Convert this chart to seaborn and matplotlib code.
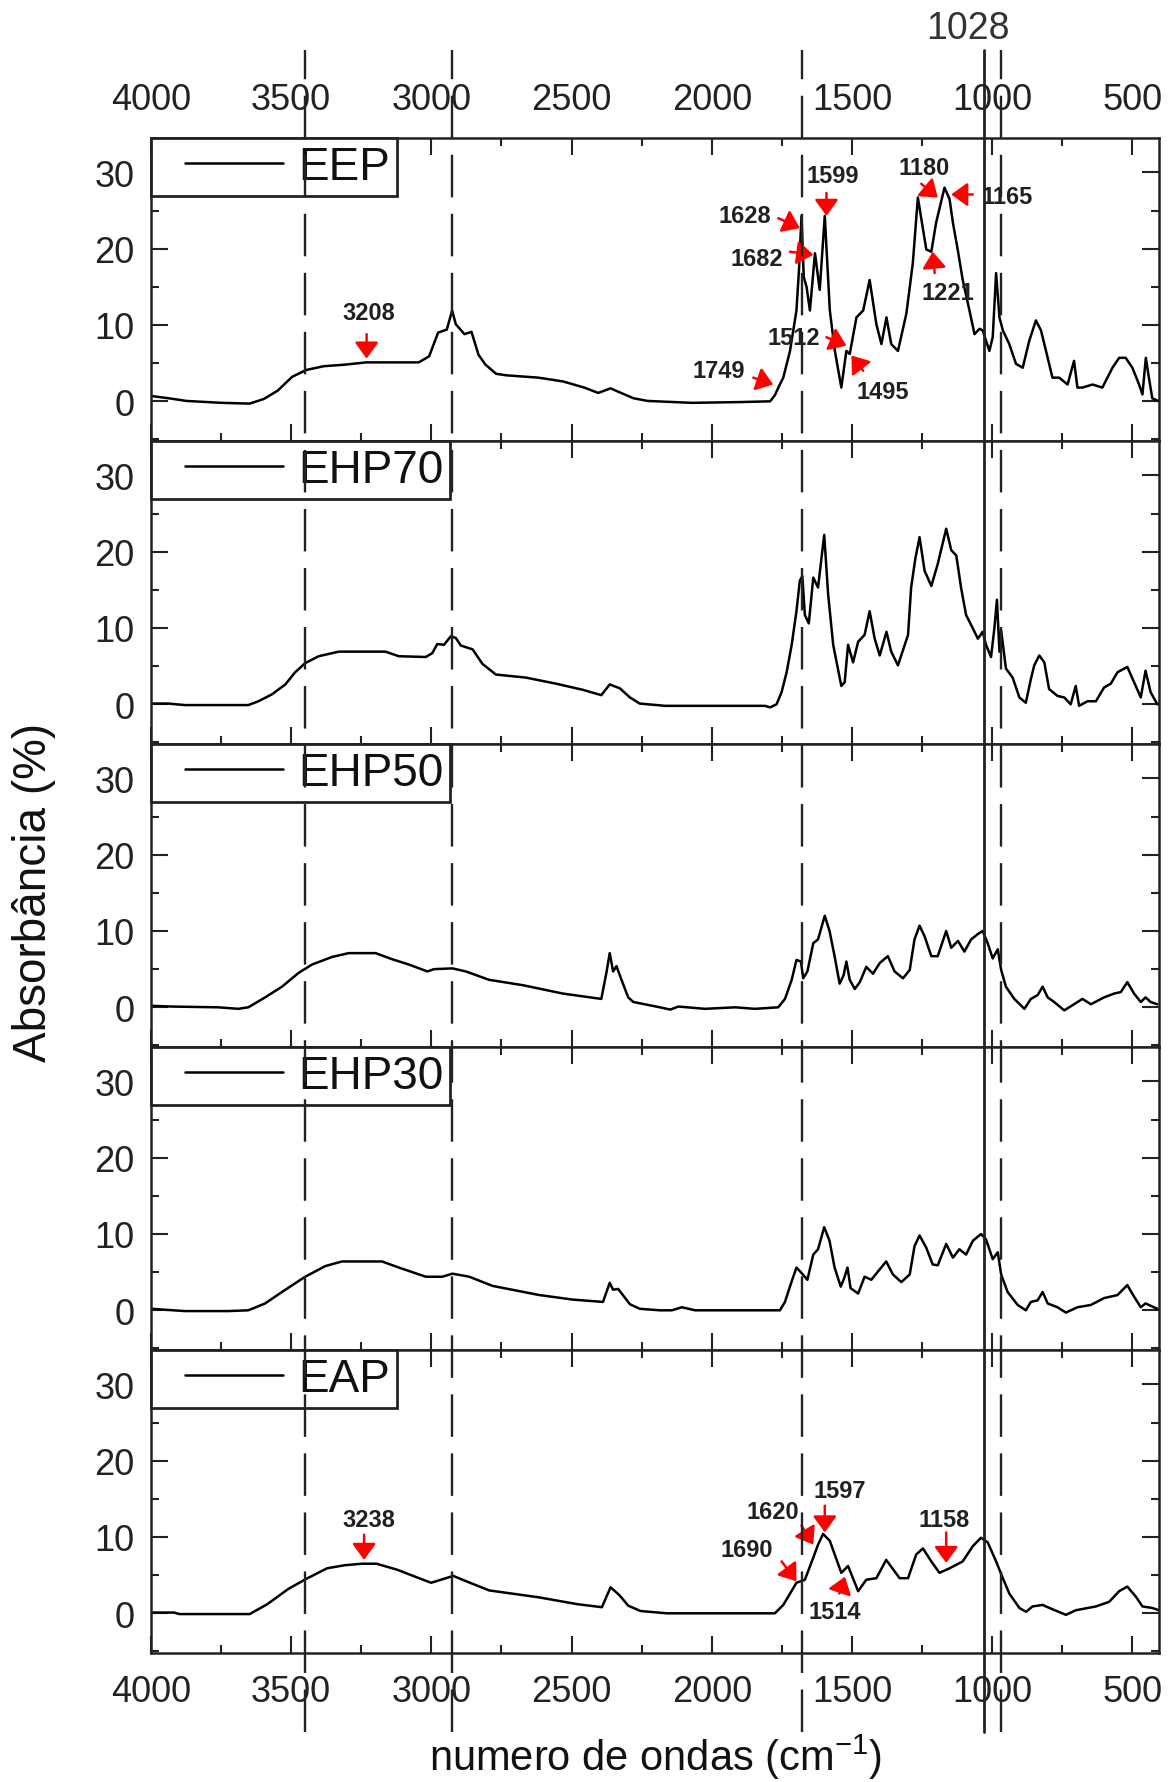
import numpy as np
import pandas as pd
import matplotlib
matplotlib.use("Agg")
import matplotlib.pyplot as plt
import matplotlib.transforms as mtransforms
from matplotlib.lines import Line2D
from matplotlib.legend_handler import HandlerLine2D
from matplotlib.ticker import MultipleLocator
import seaborn as sns

# ---------------- data ----------------
labels = ["EEP", "EHP70", "EHP50", "EHP30", "EAP"]

eep_x = [4000, 3937, 3874, 3749, 3648, 3598, 3548, 3497, 3447, 3384, 3309, 3234, 3121, 3045, 3008, 2976,
         2945, 2926, 2913, 2882, 2857, 2832, 2807, 2769, 2731, 2618, 2530, 2455, 2405, 2361, 2330, 2279,
         2229, 2071, 1900, 1792, 1775, 1760, 1745, 1721, 1698, 1689, 1680, 1672, 1662, 1650, 1632, 1615,
         1597, 1579, 1561, 1538, 1520, 1508, 1484, 1460, 1437, 1413, 1395, 1377, 1360, 1336, 1306, 1283,
         1265, 1235, 1217, 1200, 1170, 1152, 1140, 1123, 1105, 1081, 1063, 1045, 1034, 1010, 998, 986,
         974, 962, 939, 915, 891, 868, 844, 826, 808, 785, 761, 731, 708, 696, 678, 642, 607, 571, 547,
         524, 500, 476, 464, 452, 441, 429, 405]
eep_y = [0.7, 0.4, 0.05, -0.2, -0.3, 0.3, 1.4, 3.2, 4.1, 4.6, 4.8, 5.1, 5.1, 5.1, 5.9, 9.0,
         9.4, 11.9, 10.1, 8.8, 9.1, 6.1, 4.8, 3.6, 3.4, 3.1, 2.6, 1.8, 1.1, 1.7, 1.2, 0.4,
         0.05, -0.2, -0.1, 0.0, 0.8, 2.0, 3.1, 6.6, 11.9, 17.2, 24.3, 16.3, 15.0, 11.9, 19.4, 14.6,
         24.3, 11.9, 6.6, 1.8, 6.6, 6.2, 11.0, 11.9, 15.9, 10.1, 7.5, 11.0, 7.5, 6.6, 11.5, 18.1,
         26.7, 19.9, 19.6, 23.4, 28.0, 26.5, 23.4, 19.9, 15.9, 11.9, 8.8, 9.5, 9.3, 6.6, 8.4, 16.8,
         11.0, 9.3, 7.5, 4.9, 4.4, 7.9, 10.6, 9.3, 6.6, 3.1, 3.1, 2.2, 5.3, 1.8, 1.8, 2.2, 1.8, 4.4, 5.7,
         5.7, 4.4, 2.2, 0.9, 5.7, 3.1, 0.4, 0.0]

ehp70_x = [4000, 3939, 3879, 3653, 3617, 3569, 3521, 3486, 3450, 3402, 3331, 3164, 3116, 3020, 2997, 2979,
           2955, 2931, 2913, 2895, 2853, 2818, 2770, 2663, 2555, 2460, 2394, 2364, 2328, 2292, 2257,
           2166, 1810, 1792, 1769, 1751, 1733, 1715, 1698, 1686, 1677, 1668, 1654, 1638, 1621, 1599,
           1585, 1567, 1538, 1526, 1514, 1496, 1478, 1455, 1437, 1419, 1401, 1377, 1360, 1336, 1300,
           1289, 1274, 1259, 1241, 1217, 1194, 1164, 1146, 1128, 1111, 1093, 1075, 1051, 1034, 1022,
           1004, 992, 983, 974, 968, 951, 927, 903, 880, 862, 850, 832, 814, 797, 767, 743, 720, 702,
           690, 660, 630, 601, 577, 553, 518, 494, 470, 453, 435, 411]
ehp70_y = [0.1, 0.1, -0.1, -0.1, 0.4, 1.3, 2.6, 4.2, 5.4, 6.3, 6.9, 6.9, 6.3, 6.2, 6.7, 7.9,
           7.8, 8.9, 8.7, 7.7, 7.2, 5.3, 3.9, 3.5, 2.7, 1.9, 1.2, 2.6, 2.1, 0.9, 0.1,
           -0.2, -0.2, -0.4, 0.0, 1.6, 4.2, 7.8, 12.2, 16.2, 16.8, 11.7, 10.6, 16.6, 15.3, 22.2,
           14.4, 7.8, 2.4, 2.9, 7.8, 5.5, 8.2, 9.1, 12.2, 8.6, 6.4, 9.5, 6.9, 5.1, 9.1,
           15.3, 19.1, 21.9, 17.5, 15.5, 18.4, 23.0, 20.2, 19.5, 15.3, 11.7, 10.4, 8.6, 9.5, 7.8,
           6.2, 10.0, 13.7, 6.9, 9.7, 4.7, 3.5, 0.9, 0.2, 3.3, 5.1, 6.4, 5.5, 2.0, 1.1, 0.9, 0.0, 2.4,
           -0.2, 0.4, 0.4, 2.2, 2.7, 4.2, 4.9, 2.9, 0.9, 4.4, 1.6, 0.0]

ehp50_x = [4000, 3927, 3760, 3689, 3653, 3593, 3533, 3474, 3426, 3354, 3295, 3199, 3140, 3080, 3014, 2991,
           2925, 2877, 2794, 2674, 2531, 2394, 2376, 2364, 2352, 2340, 2322, 2298, 2280, 2185,
           2148, 2119, 2024, 1917, 1846, 1763, 1739, 1715, 1698, 1682, 1674, 1659, 1638, 1621, 1597,
           1580, 1562, 1544, 1530, 1520, 1508, 1490, 1472, 1449, 1425, 1401, 1372, 1348, 1318, 1294,
           1277, 1259, 1241, 1217, 1194, 1164, 1146, 1122, 1099, 1075, 1051, 1034, 1016, 998, 980,
           968, 951, 921, 885, 862, 838, 820, 802, 779, 743, 708, 678, 648, 601, 565, 541, 518, 494,
           470, 453, 435, 411]
ehp50_y = [0.2, 0.1, 0.0, -0.2, 0.0, 1.3, 2.7, 4.5, 5.6, 6.6, 7.1, 7.1, 6.3, 5.6, 4.7, 5.0,
           5.1, 4.7, 3.6, 2.9, 1.8, 1.1, 4.5, 7.1, 4.7, 5.4, 3.6, 1.3, 0.7, 0.0,
           -0.3, 0.1, -0.2, 0.0, -0.2, 0.0, 1.1, 3.6, 6.2, 6.0, 3.8, 4.7, 8.4, 8.9, 12.0,
           10.0, 6.7, 3.1, 4.2, 6.0, 3.6, 2.4, 3.3, 5.3, 4.4, 5.8, 6.7, 4.7, 3.8, 4.9,
           8.9, 10.7, 9.3, 6.7, 6.7, 10.0, 7.8, 8.7, 7.3, 8.9, 9.6, 10.0, 8.4, 6.4, 7.6,
           4.9, 2.7, 1.1, -0.2, 1.1, 1.6, 2.7, 1.3, 0.7, -0.4, 0.4, 1.1, 0.4, 1.3, 1.8, 2.0, 3.3, 1.8,
           0.7, 1.3, 0.7, 0.4]

ehp30_x = [4000, 3879, 3724, 3653, 3593, 3533, 3450, 3378, 3319, 3176, 3116, 3020, 2961, 2925, 2865, 2782,
           2615, 2495, 2388, 2364, 2352, 2334, 2292, 2257, 2185,
           2142, 2107, 2059, 1881, 1757, 1739, 1715, 1698, 1680, 1659, 1638, 1621, 1599, 1580, 1562,
           1540, 1528, 1516, 1505, 1478, 1455, 1431, 1407, 1378, 1354, 1324, 1294, 1277, 1259, 1235,
           1212, 1194, 1164, 1140, 1117, 1093, 1069, 1040, 1022, 998, 980, 968, 945, 909, 880, 862,
           838, 820, 802, 767, 737, 696, 648, 601, 553, 518, 494, 470, 453, 411]
ehp30_y = [0.2, -0.1, -0.1, 0.0, 0.9, 2.4, 4.4, 5.8, 6.4, 6.4, 5.6, 4.4, 4.4, 4.8, 4.4, 3.2,
           2.0, 1.4, 1.1, 3.6, 2.7, 2.8, 0.8, 0.2, 0.0,
           0.0, 0.4, 0.0, 0.0, 0.0, 1.1, 3.8, 5.6, 4.9, 4.0, 7.3, 8.0, 10.9, 9.1, 5.6,
           3.1, 4.2, 5.6, 2.9, 2.2, 4.4, 4.0, 5.1, 6.4, 4.7, 3.7, 4.7, 8.4, 9.8, 8.2,
           6.0, 5.9, 8.7, 6.9, 8.0, 7.3, 9.1, 10.0, 9.3, 6.7, 7.6, 4.7, 2.4, 0.7, 0.0, 1.1,
           1.3, 2.4, 0.9, 0.4, -0.3, 0.4, 0.7, 1.6, 2.0, 3.3, 1.8, 0.4, 0.9, 0.2]

eap_x = [4000, 3918, 3899, 3648, 3585, 3510, 3447, 3372, 3309, 3246, 3196, 3121, 3058, 3001, 2957, 2922,
         2869, 2794, 2618, 2480, 2392, 2361, 2330, 2298, 2254,
         2160, 1775, 1745, 1698, 1668, 1638, 1621, 1603, 1579, 1538, 1514, 1478, 1449, 1413, 1378,
         1330, 1300, 1271, 1247, 1217, 1188, 1152, 1105, 1069, 1040, 1016, 986, 962, 939, 903, 879,
         856, 820, 796, 737, 702, 630, 583, 547, 518, 488, 464, 429, 405]
eap_y = [0.1, 0.1, -0.1, -0.1, 1.2, 3.2, 4.5, 5.9, 6.3, 6.5, 6.5, 5.7, 4.8, 4.0, 4.5, 4.9,
         4.1, 3.0, 2.1, 1.2, 0.8, 3.4, 2.4, 1.0, 0.3,
         0.0, 0.0, 1.1, 4.0, 4.4, 7.3, 9.0, 10.4, 9.5, 5.3, 6.2, 2.9, 4.4, 4.6, 7.0,
         4.6, 4.6, 7.7, 8.5, 6.8, 5.3, 5.9, 6.8, 8.8, 9.9, 9.3, 6.8, 4.6, 2.6, 0.7, 0.2,
         0.9, 1.1, 0.7, -0.2, 0.4, 0.9, 1.5, 2.9, 3.5, 2.2, 0.9, 0.7, 0.4]

series_x = [eep_x, ehp70_x, ehp50_x, ehp30_x, eap_x]
series_y = [eep_y, ehp70_y, ehp50_y, ehp30_y, eap_y]

# reference band positions (cm-1)
dashed_bands = [3450, 2925, 1680, 970]
solid_band = 1028
solid_band_label = "1028"

# peak annotations: (label, text_x, text_y, arrow_tail_x, arrow_tail_y, arrow_tip_x, arrow_tip_y)
annot_eep = [("3208", 3224, 11.7, 3231, 8.8, 3231, 5.6),
             ("1599", 1567, 29.6, 1591, 27.3, 1591, 24.3),
             ("1628", 1881, 24.3, 1763, 24.0, 1686, 22.7),
             ("1682", 1840, 18.7, 1721, 19.6, 1638, 19.2),
             ("1512", 1709, 8.4, 1591, 8.4, 1520, 7.3),
             ("1749", 1976, 4.0, 1852, 3.1, 1781, 2.2),
             ("1495", 1389, 1.3, 1460, 4.0, 1502, 6.0),
             ("1180", 1241, 30.7, 1253, 28.5, 1194, 26.7),
             ("1165", 945, 26.9, 1069, 27.1, 1146, 27.1),
             ("1221", 1158, 14.3, 1205, 16.8, 1212, 19.6)]
annot_eap = [("3238", 3224, 12.3, 3240, 10.3, 3240, 7.0),
             ("1597", 1543, 16.1, 1597, 14.1, 1597, 10.6),
             ("1620", 1781, 13.4, 1680, 11.5, 1638, 9.0),
             ("1690", 1875, 8.4, 1751, 6.8, 1698, 4.2),
             ("1514", 1561, 0.2, 1545, 2.6, 1525, 4.8),
             ("1158", 1170, 12.3, 1164, 10.6, 1164, 6.6)]
annotations = {0: annot_eep, 4: annot_eap}

# ---------------- style ----------------
sns.set_theme(style="ticks")
plt.rcParams["font.family"] = ["Liberation Sans", "DejaVu Sans"]
plt.rcParams["mathtext.default"] = "regular"

W, H = 1172, 1783
fig = plt.figure(figsize=(W / 100, H / 100), dpi=100)

left_px, right_px = 151, 1159
top_px, panel_px = 139, 303
n = len(labels)
axes = []
for i in range(n):
    top = top_px + i * panel_px
    ax = fig.add_axes([left_px / W, 1 - (top + panel_px) / H, (right_px - left_px) / W, panel_px / H])
    axes.append(ax)

for i, ax in enumerate(axes):
    df = pd.DataFrame({"wn": series_x[i], "abs": series_y[i]})
    sns.lineplot(data=df, x="wn", y="abs", ax=ax, color="black", linewidth=1.8,
                 estimator=None, sort=False, label=labels[i])
    ax.set_xlim(4000, 405)
    ax.set_ylim(-5.2, 34.5)
    ax.xaxis.set_major_locator(MultipleLocator(500))
    ax.xaxis.set_minor_locator(MultipleLocator(250))
    ax.yaxis.set_major_locator(MultipleLocator(10))
    ax.yaxis.set_minor_locator(MultipleLocator(5))
    ax.set_yticks([0, 10, 20, 30])
    ax.tick_params(which="both", direction="in", top=True, right=True, bottom=True, left=True,
                   width=1.5, color="#222222")
    ax.tick_params(which="major", length=12)
    ax.tick_params(which="minor", length=6)
    ax.tick_params(axis="y", labelsize=26, pad=12, labelcolor="#222222")
    ax.tick_params(axis="x", labelsize=26, pad=15, labelcolor="#222222",
                   labeltop=(i == 0), labelbottom=(i == n - 1))
    ax.set_xlabel("")
    ax.set_ylabel("")
    for s in ax.spines.values():
        s.set_linewidth(1.8)
        s.set_color("#222222")
    leg = ax.legend(loc="upper left", bbox_to_anchor=(0, 1), borderaxespad=0, frameon=True,
                    fancybox=False, edgecolor="#222222", framealpha=1, fontsize=33,
                    handlelength=2.73, handletextpad=0.33, borderpad=0.15,
                    handler_map={Line2D: HandlerLine2D(xpad=0.59)})
    leg.get_frame().set_linewidth(2.0)
    for t in leg.get_texts():
        t.set_color("#111111")

    for (lab, tx, ty, ax0, ay0, ax1, ay1) in annotations.get(i, []):
        ax.text(tx, ty, lab, ha="center", va="center", fontsize=17, fontweight="bold",
                color="#202020")
        ax.annotate("", xy=(ax1, ay1), xytext=(ax0, ay0),
                    arrowprops=dict(arrowstyle="-|>,head_width=0.4,head_length=0.55",
                                    color="red", lw=1.8, shrinkA=0, shrinkB=0,
                                    mutation_scale=18))

# vertical reference lines across all panels
blend = mtransforms.blended_transform_factory(axes[0].transData, fig.transFigure)
y_lo, y_hi = 1 - 1733 / H, 1 - 51 / H
for wn in dashed_bands:
    fig.lines.append(Line2D([wn, wn], [y_lo, y_hi], transform=blend, color="#222222",
                            linewidth=1.7, linestyle=(0, (18, 7))))
fig.lines.append(Line2D([solid_band, solid_band], [y_lo, y_hi], transform=blend, color="#222222",
                        linewidth=2.0))
fig.text(solid_band + 58, 1 - 29 / H, solid_band_label, transform=blend, ha="center", va="center",
         fontsize=27, color="#333333")

# axis titles
fig.text((left_px + right_px) / 2 / W, 1 - 1757 / H, "numero de ondas (cm$^{-1}$)",
         ha="center", va="center", fontsize=30, color="#111111")
fig.text(34 / W, 1 - 892 / H, "Absorbância (%)", rotation=90, ha="center", va="center",
         fontsize=33, color="#111111")

fig.savefig("out.png", dpi=100)
